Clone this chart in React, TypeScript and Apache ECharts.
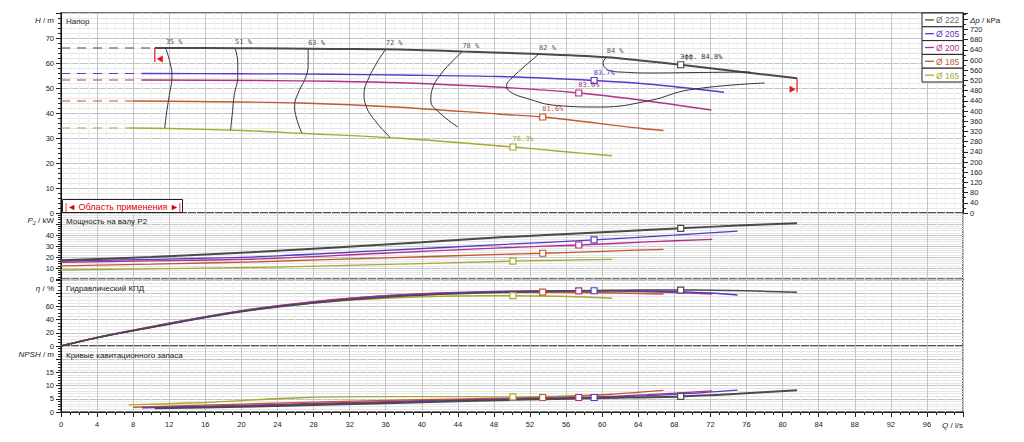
import React, { useEffect, useRef } from 'react';
import * as echarts from 'echarts';

// ---------- data ----------
const diameterNames = ['Ø 222', 'Ø 205', 'Ø 200', 'Ø 185', 'Ø 165'];
const lineColors = ['#4a4a4a', '#5a38c8', '#b0308a', '#c05a30', '#a8a832'];
const legendTextColors = ['#6a6a6a', '#5a38c8', '#b0308a', '#c05a30', '#a8a832'];

// shut-off head (dashed part starts at Q = 0)
const headShutoff = [66.0, 55.8, 53.2, 44.8, 34.0];

// H(Q) curves, m
const head222 = [[10.4, 66.0], [20, 65.9], [30, 65.6], [37.6, 65.4], [44.5, 64.6], [53, 63.6], [60.5, 62.3], [64.2, 61.0], [68.7, 59.3], [75.3, 56.5], [81.6, 53.9]];
const head205 = [[9, 55.8], [20, 55.7], [30, 55.5], [37.6, 55.2], [48.7, 54.6], [59.1, 53.0], [65.3, 51.5], [73.5, 48.3]];
const head200 = [[9, 53.2], [22, 53.0], [30, 52.7], [37.6, 52.1], [48.7, 50.3], [57.4, 48.0], [64.2, 45.2], [72.1, 41.2]];
const head185 = [[8, 44.8], [15, 44.6], [26.5, 44.0], [37.6, 42.3], [48.7, 39.5], [53.4, 38.4], [64.2, 33.9], [66.8, 33.0]];
const head165 = [[7.5, 34.0], [12, 33.8], [20, 33.0], [26.5, 31.9], [37.6, 29.9], [50.1, 26.4], [55, 24.8], [61.1, 22.9]];

// shaft power P2(Q), kW
const power222 = [[0, 17.0], [10, 20.0], [22, 24.8], [30, 28.5], [40, 33.5], [48.7, 37.9], [60, 42.6], [68.7, 46.1], [75, 48.6], [81.6, 50.6]];
const power205 = [[0, 16.2], [10, 17.8], [22, 20.3], [35, 25.5], [48.7, 31.3], [59.1, 35.5], [68, 39.8], [75, 43.6]];
const power200 = [[0, 15.2], [10, 16.5], [22, 18.3], [35, 23.2], [48.7, 28.3], [57.4, 30.9], [65, 33.7], [72.2, 36.1]];
const power185 = [[0, 12.0], [10, 13.5], [22, 15.7], [35, 19.0], [48.7, 22.3], [53.4, 23.4], [60, 25.2], [66.8, 27.0]];
const power165 = [[0, 8.2], [10, 9.2], [22, 10.6], [35, 13.0], [45, 15.1], [50.1, 16.2], [55, 17.0], [61.1, 17.9]];

// hydraulic efficiency η(Q), %
const eff222 = [[0, 0], [4, 12.5], [8, 23], [12, 33], [16, 43], [20, 52], [24, 59], [28, 65], [32, 70], [36, 74], [40, 77], [44, 79.3], [48.7, 81.2], [53, 82.6], [57, 83.7], [61, 84.4], [64, 84.7], [68.7, 84.8], [72, 84.5], [76, 83.6], [81.6, 81.5]];
const eff205 = [[0, 0], [4, 12.7], [8, 23.4], [12, 33.6], [16, 43.5], [20, 52.5], [24, 59.8], [28, 66], [32, 71], [36, 75], [40, 78], [44, 80.3], [48, 82], [52, 83], [56, 83.5], [59.1, 83.7], [64, 83.3], [68, 82.2], [72, 80.3], [75, 77.3]];
const eff200 = [[0, 0], [4, 12.8], [8, 23.6], [12, 34], [16, 44], [20, 53], [24, 60.5], [28, 66.8], [32, 72], [36, 76], [40, 79], [44, 81.2], [48, 82.6], [52, 83.3], [57.4, 83.6], [62, 83.2], [66, 82], [69, 80.5], [72.2, 78.8]];
const eff185 = [[0, 0], [4, 13], [8, 24], [12, 34.5], [16, 44.5], [20, 53.5], [24, 61], [28, 67.2], [32, 72.2], [36, 76], [40, 78.8], [44, 80.5], [48, 81.3], [53.4, 81.6], [58, 81.2], [62, 80.3], [66.8, 78.8]];
const eff165 = [[0, 0], [4, 13], [8, 24], [12, 34.5], [16, 44], [20, 52.5], [24, 59.5], [28, 65], [32, 69.5], [36, 72.5], [40, 74.5], [44, 75.8], [50.1, 76.3], [55, 75.5], [58, 74.2], [61.1, 72.3]];

// NPSH(Q), m
const npsh222 = [[10.4, 1.4], [20, 2.0], [30, 2.8], [40, 3.7], [50, 4.6], [60, 5.3], [68.7, 5.9], [75, 6.9], [81.6, 8.2]];
const npsh205 = [[9, 1.6], [20, 2.3], [30, 3.1], [40, 4.0], [50, 4.9], [59.1, 5.5], [68, 6.7], [75, 8.3]];
const npsh200 = [[9, 1.7], [20, 2.5], [30, 3.4], [40, 4.3], [50, 5.0], [57.4, 5.5], [65, 6.6], [72.2, 8.0]];
const npsh185 = [[8, 1.8], [20, 3.0], [30, 3.9], [40, 4.7], [53.4, 5.5], [60, 6.5], [66.8, 8.2]];
const npsh165 = [[7.5, 2.7], [15, 3.5], [26.5, 5.4], [35, 5.8], [45, 5.8], [50.1, 5.7], [55, 6.0], [61.1, 6.8]];

// best efficiency points
const bepQ = [68.7, 59.1, 57.4, 53.4, 50.1];
const bepH = [59.3, 53.0, 48.0, 38.4, 26.4];
const bepEff = [84.8, 83.7, 83.6, 81.6, 76.3];
const bepPower = [46.1, 35.5, 30.9, 23.4, 16.2];
const bepNpsh = [5.9, 5.5, 5.5, 5.5, 5.7];

// iso-efficiency lines in the H-Q field
const isoLabels = ['35 %', '51 %', '63 %', '72 %', '78 %', '82 %', '84 %'];
const iso35 = [[11.6, 66.0], [12.1, 60], [12.3, 55], [12.0, 47], [11.7, 40], [11.5, 34]];
const iso51 = [[19.3, 65.9], [19.6, 60], [19.6, 55], [19.2, 47], [19.0, 40], [18.8, 33.2]];
const iso63 = [[27.4, 65.7], [27.4, 60], [27.2, 55], [26.3, 48], [25.9, 43], [26.1, 38], [26.7, 32]];
const iso72 = [[36.0, 65.5], [35.0, 60], [34.0, 53], [33.6, 48], [33.8, 43], [34.8, 37], [36.5, 30.2]];
const iso78 = [[44.5, 64.6], [43.2, 60], [42.0, 55], [41.2, 50], [41.0, 45], [42.0, 40], [44.0, 34.4]];
const iso82 = [[53.0, 63.6], [51.5, 59], [50.0, 54], [49.4, 51], [49.8, 48.5], [51.5, 46], [55, 43], [59.8, 42.4], [65.3, 45], [69.7, 49.3], [78, 52]];
const iso84 = [[60.5, 62.3], [60.1, 60.2], [60.3, 58.2], [60.9, 56.9], [62.5, 56.3], [65.3, 56.0], [70.8, 56.2], [76.4, 56.4]];

const heads = [head222, head205, head200, head185, head165];
const powers = [power222, power205, power200, power185, power165];
const effs = [eff222, eff205, eff200, eff185, eff165];
const npshs = [npsh222, npsh205, npsh200, npsh185, npsh165];
const isoCurves = [iso35, iso51, iso63, iso72, iso78, iso82, iso84];

const FONT = 'Liberation Sans, Arial, sans-serif';
const MONO = 'DejaVu Sans Mono, monospace';

function buildOption() {
  const series: any[] = [];
  const bepSets = [bepH, bepPower, bepEff, bepNpsh];
  const curveSets = [heads, powers, effs, npshs];
  for (let i = 0; i < 5; i++) {
    const color = lineColors[i];
    const w = i === 0 ? 2 : 1.3;
    series.push({
      type: 'line', xAxisIndex: 0, yAxisIndex: 0, symbol: 'none', silent: true,
      data: [[0, headShutoff[i]], heads[i][0]],
      lineStyle: { color, width: 1.2, type: [9, 7] }, z: 2,
    });
    for (let p = 0; p < 4; p++) {
      series.push({
        type: 'line', xAxisIndex: p, yAxisIndex: p === 0 ? 0 : p + 1, symbol: 'none', silent: true,
        smooth: 0.3, data: curveSets[p][i],
        lineStyle: { color, width: p === 2 ? 1.5 : w }, z: 3 + (5 - i) * 0.01,
      });
      const item: any = { value: [bepQ[i], bepSets[p][i]] };
      if (p === 0) {
        item.label = {
          show: true, position: 'right', distance: 0, offset: [-4, -8],
          formatter: i === 0 ? `Эфф. ${bepEff[i]}%` : `${bepEff[i]}%`,
          color: i === 0 ? '#333' : color, fontSize: 7, fontFamily: MONO,
        };
      }
      series.push({
        type: 'scatter', xAxisIndex: p, yAxisIndex: p === 0 ? 0 : p + 1, silent: true,
        symbol: 'rect', symbolSize: 6, data: [item],
        itemStyle: { color: '#ffffff', borderColor: color, borderWidth: 1.2, opacity: 1 }, z: 6,
      });
    }
  }
  isoCurves.forEach((c) => {
    series.push({
      type: 'line', xAxisIndex: 0, yAxisIndex: 0, symbol: 'none', silent: true, smooth: 0.45,
      data: c, lineStyle: { color: '#333', width: 1 }, z: 4,
    });
  });
  series.push({
    type: 'scatter', xAxisIndex: 0, yAxisIndex: 0, symbolSize: 0, silent: true,
    itemStyle: { color: '#222' },
    label: { show: true, color: '#222' },
    data: isoCurves.map((c, k) => ({
      value: c[0],
      label: { show: true, position: 'right', distance: 0, offset: [0, -6], formatter: isoLabels[k], color: '#222', fontSize: 7, fontFamily: MONO },
    })),
    z: 7,
  });

  const grids = [
    { left: 61, right: 61, top: 13, height: 200 },
    { left: 61, right: 61, top: 213, height: 66 },
    { left: 61, right: 61, top: 280, height: 66 },
    { left: 61, right: 61, top: 346, height: 66 },
  ].map((g) => ({ ...g, show: true, borderColor: '#444', borderWidth: 1.5, backgroundColor: 'transparent', containLabel: false, outerBoundsMode: 'none' }));

  const xAxis = [0, 1, 2, 3].map((gi) => ({
    type: 'value', gridIndex: gi, min: 0, max: 100, interval: 4,
    axisLine: { show: gi === 3, onZero: false, lineStyle: { color: '#222', width: 1 } },
    axisTick: { show: gi === 3, length: 5, lineStyle: { color: '#222' } },
    minorTick: { show: gi === 3, splitNumber: 4, length: 3, lineStyle: { color: '#222' } },
    axisLabel: {
      show: gi === 3, fontSize: 7.5, color: '#222', fontFamily: FONT, margin: 8,
      formatter: (v: number) => (v >= 100 ? '' : String(v)),
    },
    splitLine: { show: true, lineStyle: { color: '#c4c4c4', width: 1 } },
    minorSplitLine: { show: true, lineStyle: { color: '#f0f0f0', width: 1 } },
  }));

  const mkY = (gi: number, max: number, interval: number, hideAbove: number, minorSplit: number, pos = 'left', grid = true) => ({
    type: 'value', gridIndex: gi, min: 0, max, interval, position: pos,
    axisLine: { show: true, onZero: false, lineStyle: { color: '#111', width: 1 } },
    axisTick: { show: true, length: 5, lineStyle: { color: '#222' } },
    minorTick: { show: true, splitNumber: minorSplit, length: 3, lineStyle: { color: '#222' } },
    axisLabel: {
      fontSize: 7.5, color: '#222', fontFamily: FONT, margin: 7,
      formatter: (v: number) => (v > hideAbove ? '' : String(Math.round(v))),
    },
    splitLine: { show: grid, lineStyle: { color: '#c4c4c4', width: 1 } },
    minorSplitLine: { show: grid, lineStyle: { color: '#e6e6e6', width: 1 } },
  });

  const yAxis = [
    mkY(0, 80, 10, 75, 5),
    mkY(0, 784.8, 40, 740, 2, 'right', false),
    mkY(1, 60, 10, 45, 5),
    mkY(2, 100, 20, 70, 4),
    mkY(3, 25, 5, 17, 5),
  ];

  const txt = (x: number, y: number, text: string, align: string, extra: any = {}) => ({
    type: 'text', x, y, silent: true, z: 100,
    style: {
      text, fill: '#222', fontSize: 8, fontFamily: FONT, align, verticalAlign: 'middle',
      rich: {
        i: { fontStyle: 'italic', fontSize: 8, fontFamily: FONT, fill: '#222' },
        s: { fontStyle: 'italic', fontSize: 5.5, fontFamily: FONT, fill: '#222', padding: [5, 0, 0, 0] },
      },
      ...extra,
    },
  });

  const graphic: any[] = [
    txt(54, 20, '{i|H} / m', 'right'),
    txt(66, 21, 'Напор', 'left'),
    txt(54, 220, '{i|P}{s|2} / kW', 'right'),
    txt(66, 221, 'Мощность на валу P2', 'left'),
    txt(54, 288, '{i|η} / %', 'right'),
    txt(66, 288, 'Гидравлический КПД', 'left'),
    txt(54, 354, '{i|NPSH} / m', 'right'),
    txt(66, 355, 'Кривые кавитационного запаса', 'left'),
    txt(963, 425, '{i|Q} / l/s', 'right'),
    txt(970, 20, '{i|Δp} / kPa', 'left'),
    {
      type: 'rect', silent: true, z: 90,
      shape: { x: 62.5, y: 199.5, width: 120, height: 13 },
      style: { fill: '#ffffff', stroke: '#222', lineWidth: 1 },
    },
    txt(123, 206.5, '|◄ Область применения ►|', 'center', { fill: '#e00000', fontSize: 9, fontFamily: FONT }),
  ];
  diameterNames.forEach((name, i) => {
    const y0 = 13 + i * 13.8;
    const cy = y0 + 6.9;
    graphic.push({
      type: 'rect', silent: true, z: 95,
      shape: { x: 922, y: y0, width: 41, height: 13.8 },
      style: { fill: '#ffffff', stroke: '#222', lineWidth: 1 },
    });
    graphic.push({
      type: 'line', silent: true, z: 96,
      shape: { x1: 925, y1: cy, x2: 934, y2: cy },
      style: { stroke: lineColors[i], lineWidth: 1.3 },
    });
    graphic.push(txt(936, cy + 0.5, name, 'left', { fill: legendTextColors[i], fontSize: 8.5 }));
  });

  return {
    animation: false,
    backgroundColor: '#ffffff',
    grid: grids,
    xAxis,
    yAxis,
    series,
    graphic,
  };
}

export default function App() {
  const ref = useRef<HTMLDivElement>(null);
  useEffect(() => {
    if (!ref.current) return;
    const chart = echarts.init(ref.current, null, { renderer: 'svg' });
    const option: any = buildOption();
    chart.setOption(option);
    // red operating-range markers at the ends of the largest impeller curve
    const first = head222[0];
    const last = head222[head222.length - 1];
    const pL = chart.convertToPixel({ xAxisIndex: 0, yAxisIndex: 0 }, first) as number[];
    const pR = chart.convertToPixel({ xAxisIndex: 0, yAxisIndex: 0 }, last) as number[];
    const red = '#ee1111';
    const extra = [
      { type: 'line', silent: true, z: 80, shape: { x1: pL[0], y1: pL[1], x2: pL[0], y2: pL[1] + 14 }, style: { stroke: red, lineWidth: 1.2 } },
      { type: 'polygon', silent: true, z: 80, shape: { points: [[pL[0] + 2, pL[1] + 11], [pL[0] + 8, pL[1] + 7.5], [pL[0] + 8, pL[1] + 14.5]] }, style: { fill: red } },
      { type: 'line', silent: true, z: 80, shape: { x1: pR[0], y1: pR[1], x2: pR[0], y2: pR[1] + 14 }, style: { stroke: red, lineWidth: 1.2 } },
      { type: 'polygon', silent: true, z: 80, shape: { points: [[pR[0] - 1.5, pR[1] + 11], [pR[0] - 7.5, pR[1] + 7.5], [pR[0] - 7.5, pR[1] + 14.5]] }, style: { fill: red } },
    ];
    chart.setOption({ graphic: [...option.graphic, ...extra] }, { replaceMerge: ['graphic'] });
    return () => chart.dispose();
  }, []);
  return <div ref={ref} style={{ position: 'absolute', left: 0, top: 0, width: 1024, height: 442 }} />;
}
